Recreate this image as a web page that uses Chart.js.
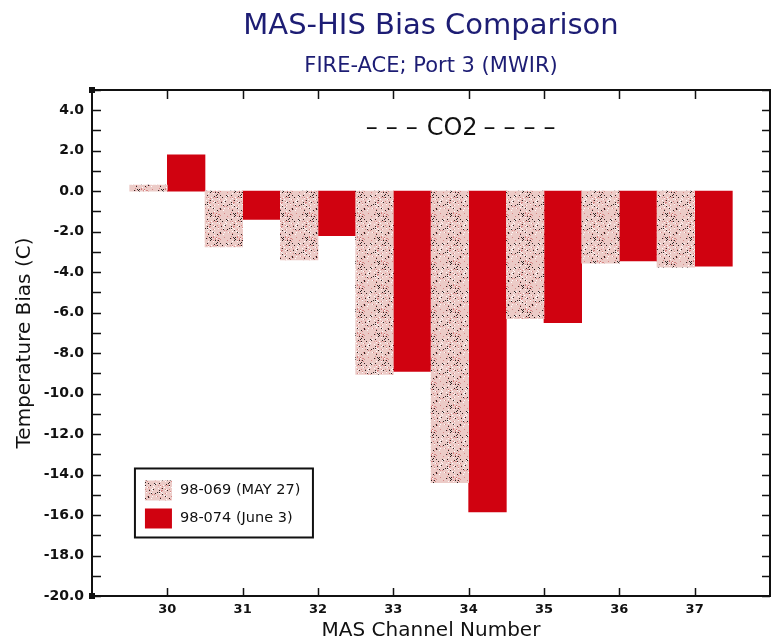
<!DOCTYPE html>
<html>
<head>
<meta charset="utf-8">
<script src="https://cdn.jsdelivr.net/npm/chart.js@4"></script>
<style>
  html, body { margin: 0; padding: 0; background: #fff; }
  #wrap { width: 771px; height: 644px; }
</style>
</head>
<body>
<div id="wrap"><canvas id="chart" width="771" height="644"></canvas></div>
<script>
// MAS channel numbers and temperature bias (C) per flight
const channels = [30, 31, 32, 33, 34, 35, 36, 37];
const biasMay27 = [0.3, -2.75, -3.4, -9.05, -14.4, -6.3, -3.55, -3.75];
const biasJune3 = [1.8, -1.4, -2.2, -8.9, -15.85, -6.5, -3.45, -3.7];
const seriesLabels = ['98-069 (MAY 27)', '98-074 (June 3)'];
const titleText = 'MAS-HIS Bias Comparison';
const subtitleText = 'FIRE-ACE; Port 3 (MWIR)';
const bandText = ['–––', 'CO2', '––––'];

const RED = 'rgb(208, 2, 16)';
const NAVY = '#1d1d74';

// stippled fill for the first flight
function makeStipple() {
    const c = document.createElement('canvas');
    c.width = 24; c.height = 24;
    const g = c.getContext('2d');
    g.fillStyle = '#eccbc7';
    g.fillRect(0, 0, 24, 24);
    let seed = 7;
    const rnd = () => { seed = (seed * 16807) % 2147483647; return seed / 2147483647; };
    for (let i = 0; i < 40; i++) {
        g.fillStyle = 'rgba(255,255,255,0.9)';
        g.fillRect(Math.floor(rnd() * 24), Math.floor(rnd() * 24), 1, 1);
    }
    for (let i = 0; i < 45; i++) {
        g.fillStyle = 'rgba(200,90,90,0.6)';
        g.fillRect(Math.floor(rnd() * 24), Math.floor(rnd() * 24), 1, 1);
    }
    for (let i = 0; i < 32; i++) {
        g.fillStyle = 'rgba(25,15,15,0.9)';
        g.fillRect(Math.floor(rnd() * 24), Math.floor(rnd() * 24), 1, 1);
    }
    return document.getElementById('chart').getContext('2d').createPattern(c, 'repeat');
}
const stipple = makeStipple();

const framePlugin = {
    id: 'frame',
    afterDraw(chart) {
        const ctx = chart.ctx;
        const a = chart.chartArea;
        const xs = chart.scales.x, ys = chart.scales.y;
        ctx.save();
        ctx.strokeStyle = '#111';
        ctx.lineWidth = 2;
        ctx.strokeRect(a.left, a.top, a.right - a.left, a.bottom - a.top);

        // ticks pointing inward
        ctx.lineWidth = 1.5;
        ctx.beginPath();
        for (let v = -20; v <= 5; v++) {
            const y = Math.round(ys.getPixelForValue(v)) + 0.5;
            ctx.moveTo(a.left, y); ctx.lineTo(a.left + 9, y);
            ctx.moveTo(a.right, y); ctx.lineTo(a.right - 8, y);
        }
        channels.forEach(ch => {
            const x = Math.round(xs.getPixelForValue(ch)) + 0.5;
            ctx.moveTo(x, a.top); ctx.lineTo(x, a.top + 9);
            ctx.moveTo(x, a.bottom); ctx.lineTo(x, a.bottom - 8);
        });
        ctx.stroke();

        // corner marks
        ctx.fillStyle = '#111';
        ctx.fillRect(a.left - 3, a.top - 3, 6, 6);
        ctx.fillRect(a.left - 3, a.bottom - 3, 6, 6);

        // titles
        const cx = (a.left + a.right) / 2;
        ctx.fillStyle = NAVY;
        ctx.textAlign = 'center';
        ctx.textBaseline = 'middle';
        ctx.font = '29px "DejaVu Sans"';
        ctx.fillText(titleText, cx, 26);
        ctx.font = '21px "DejaVu Sans"';
        ctx.fillText(subtitleText, cx, 67);

        // CO2 band label: dashes spaced out, name in the middle
        ctx.fillStyle = '#111';
        ctx.font = '24px "DejaVu Sans"';
        const bx = xs.getPixelForValue(33.78), by = ys.getPixelForValue(3.1);
        const half = ctx.measureText(bandText[1]).width / 2;
        ctx.fillText(bandText[1], bx, by);
        ctx.letterSpacing = '8px';
        ctx.textAlign = 'right';
        ctx.fillText(bandText[0], bx - half - 1, by);
        ctx.textAlign = 'left';
        ctx.fillText(bandText[2], bx + half + 6, by);
        ctx.letterSpacing = '0px';

        // legend box
        const lx = xs.getPixelForValue(29.57), ly = ys.getPixelForValue(-13.7);
        const lw = 178, lh = 69;
        ctx.fillStyle = '#fff';
        ctx.fillRect(lx, ly, lw, lh);
        ctx.strokeStyle = '#111';
        ctx.lineWidth = 2;
        ctx.strokeRect(lx, ly, lw, lh);
        const fills = [stipple, RED];
        ctx.font = '14.5px "DejaVu Sans"';
        ctx.textAlign = 'left';
        seriesLabels.forEach((lab, i) => {
            const ry = ly + 12 + i * 28;
            ctx.fillStyle = fills[i];
            ctx.fillRect(lx + 10, ry, 27, 20);
            ctx.fillStyle = '#111';
            ctx.fillText(lab, lx + 45, ry + 10);
        });
        ctx.restore();
    }
};

new Chart(document.getElementById('chart'), {
    type: 'bar',
    data: {
        datasets: [
            {
                label: seriesLabels[0],
                data: channels.map((c, i) => ({ x: c, y: biasMay27[i] })),
                backgroundColor: stipple,
                borderWidth: 0
            },
            {
                label: seriesLabels[1],
                data: channels.map((c, i) => ({ x: c, y: biasJune3[i] })),
                backgroundColor: RED,
                borderWidth: 0
            }
        ]
    },
    options: {
        responsive: false,
        animation: false,
        events: [],
        layout: { padding: { top: 90, right: 1, left: 0, bottom: 0 } },
        datasets: { bar: { categoryPercentage: 1, barPercentage: 1 } },
        plugins: { legend: { display: false }, title: { display: false }, tooltip: { enabled: false } },
        scales: {
            x: {
                type: 'linear',
                offset: false,
                min: 29,
                max: 38,
                grid: { display: false, drawTicks: false },
                border: { display: false },
                afterFit: s => { s.height = 48; s.paddingLeft = 0; s.paddingRight = 0; },
                ticks: {
                    stepSize: 1,
                    padding: 6,
                    color: '#111',
                    font: { family: 'DejaVu Sans', size: 13, weight: 'bold' },
                    callback: v => (v === 29 || v === 38) ? '' : String(v)
                },
                title: {
                    display: true,
                    text: 'MAS Channel Number',
                    color: '#111',
                    font: { family: 'DejaVu Sans', size: 20 },
                    padding: { top: 0, bottom: 1 }
                }
            },
            y: {
                min: -20,
                max: 5,
                grid: { display: false, drawTicks: false },
                border: { display: false },
                afterFit: s => { s.width = 92; },
                ticks: {
                    stepSize: 2,
                    includeBounds: false,
                    padding: 8,
                    color: '#111',
                    font: { family: 'DejaVu Sans', size: 14, weight: 'bold' },
                    callback: v => v.toFixed(1)
                },
                title: {
                    display: true,
                    text: 'Temperature Bias (C)',
                    color: '#111',
                    font: { family: 'DejaVu Sans', size: 20 },
                    padding: { top: 13, bottom: 0 }
                }
            }
        }
    },
    plugins: [framePlugin]
});
</script>
</body>
</html>
